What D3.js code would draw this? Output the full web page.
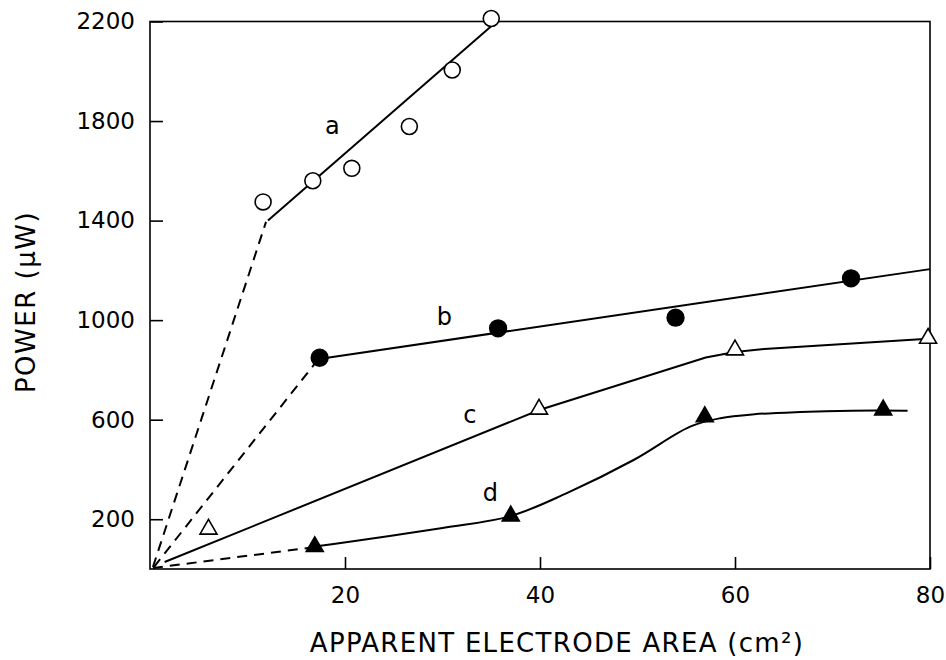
<!DOCTYPE html>
<meta charset="utf-8">
<head>
<title>Power vs apparent electrode area</title>
<script src="https://cdnjs.cloudflare.com/ajax/libs/d3/7.8.5/d3.min.js" charset="utf-8"></script>
<style type="text/css">
body {margin: 0; background: #fff;}
text {font-family: "DejaVu Sans", sans-serif; font-weight: 400; fill: #000;}
</style>
</head>
<body>
<script>
// Tick labels
var xTicks = [20, 40, 60, 80],
    yTicks = [200, 600, 1000, 1400, 1800, 2200];

// Measured points (area cm2, power uW)
var aX = [11.6, 16.7, 20.7, 26.6, 31.0, 35.0],
    aY = [1475, 1560, 1610, 1778, 2005, 2212];
var bX = [17.4, 35.7, 53.9, 71.9],
    bY = [849, 967, 1010, 1168];
var cX = [6.0, 39.9, 60.0, 79.8],
    cY = [160, 642, 880, 927];
var dX = [16.9, 37.0, 56.9, 75.2],
    dY = [90, 213, 612, 639];

// Drawn curves through the points
var aLineX = [12.1, 35.7],       aLineY = [1400, 2205];
var aDashX = [0.3, 11.9],        aDashY = [8, 1395];
var bLineX = [17.5, 80],         bLineY = [845, 1205];
var bDashX = [0.4, 17.0],        bDashY = [8, 830];
var cLineX = [1.5, 40, 57, 60, 63, 79.8],
    cLineY = [28, 640, 850, 872, 884, 925];
var dDashX = [0.3, 16.5],        dDashY = [4, 86];
var dLineX = [16.9, 30, 37, 42.7, 49.6, 55.4, 58.5, 62, 66.7, 72, 77.7],
    dLineY = [90, 165, 213, 304, 438, 572, 606, 622, 631, 636, 636];

// Curve labels
var labels = ["a", "b", "c", "d"],
    labelX = [18.7, 30.2, 32.8, 34.9],
    labelY = [1780, 1013, 619, 305];

var width = 946,
    height = 660;

var svg = d3.select("body").append("svg")
  .attr("width", width)
  .attr("height", height);

var x = d3.scaleLinear().domain([0, 80]).range([150, 930]);
var y = d3.scaleLinear().domain([0, 2200]).range([569, 21.5]);

function pairs(xs, ys) { return xs.map(function(v, i) { return [v, ys[i]]; }); }

var line = d3.line().x(function(d) { return x(d[0]); }).y(function(d) { return y(d[1]); });
var smooth = d3.line().curve(d3.curveCatmullRom.alpha(0.5))
  .x(function(d) { return x(d[0]); }).y(function(d) { return y(d[1]); });

// frame
svg.append("rect")
  .attr("x", x(0)).attr("y", y(2200))
  .attr("width", x(80) - x(0)).attr("height", y(0) - y(2200))
  .attr("fill", "none").attr("stroke", "#000").attr("stroke-width", 1.6);

// axes, ticks pointing inward
var yAxis = svg.append("g")
  .attr("transform", "translate(" + x(0) + ",0)")
  .call(d3.axisLeft(y).tickValues(yTicks).tickFormat(d3.format("d")).tickSize(-13).tickPadding(15));
var xAxis = svg.append("g")
  .attr("transform", "translate(0," + y(0) + ")")
  .call(d3.axisBottom(x).tickValues(xTicks).tickFormat(d3.format("d")).tickSize(-12).tickPadding(18));

[xAxis, yAxis].forEach(function(g) {
  g.select(".domain").remove();
  g.selectAll("line").attr("stroke", "#000").attr("stroke-width", 1.6);
  g.selectAll("text").style("font-size", "23px").style("font-family", "DejaVu Sans").style("font-weight", 400);
});

// dashed extrapolations
[[aDashX, aDashY], [bDashX, bDashY], [dDashX, dDashY]].forEach(function(s) {
  svg.append("path")
    .attr("d", line(pairs(s[0], s[1])))
    .attr("fill", "none").attr("stroke", "#000").attr("stroke-width", 2)
    .attr("stroke-dasharray", "10,7");
});

// solid curves
var solid = svg.append("g")
  .attr("fill", "none").attr("stroke", "#000").attr("stroke-width", 2);
solid.append("path").attr("d", line(pairs(aLineX, aLineY)));
solid.append("path").attr("d", line(pairs(bLineX, bLineY)));
solid.append("path").attr("d", line(pairs(cLineX, cLineY)));
solid.append("path").attr("d", smooth(pairs(dLineX, dLineY)));

// markers
var circle = d3.symbol().type(d3.symbolCircle).size(200);
var triangle = d3.symbol().type(d3.symbolTriangle).size(125);

function markers(xs, ys, sym, filled) {
  svg.append("g").selectAll("path")
    .data(pairs(xs, ys))
    .enter()
    .append("path")
    .attr("d", sym)
    .attr("transform", function(d) { return "translate(" + x(d[0]) + "," + y(d[1]) + ")"; })
    .attr("fill", filled ? "#000" : "#fff")
    .attr("stroke", "#000")
    .attr("stroke-width", 1.6);
}
markers(aX, aY, circle, false);
markers(bX, bY, d3.symbol().type(d3.symbolCircle).size(220), true);
markers(cX, cY, triangle, false);
markers(dX, dY, triangle, true);

// curve labels
svg.selectAll(".lbl")
  .data(labels)
  .enter()
  .append("text")
  .attr("class", "lbl")
  .attr("x", function(d, i) { return x(labelX[i]); })
  .attr("y", function(d, i) { return y(labelY[i]); })
  .attr("text-anchor", "middle")
  .attr("dy", "0.35em")
  .style("font-size", "24px")
  .text(function(d) { return d; });

// axis titles
svg.append("text")
  .attr("x", 557)
  .attr("y", 652)
  .attr("text-anchor", "middle")
  .style("font-size", "26px")
  .style("letter-spacing", "1.3px")
  .text("APPARENT ELECTRODE AREA (cm²)");

svg.append("text")
  .attr("transform", "translate(35,302) rotate(-90)")
  .attr("text-anchor", "middle")
  .style("font-size", "26px")
  .style("letter-spacing", "1.5px")
  .text("POWER (μW)");
</script>
</body>
